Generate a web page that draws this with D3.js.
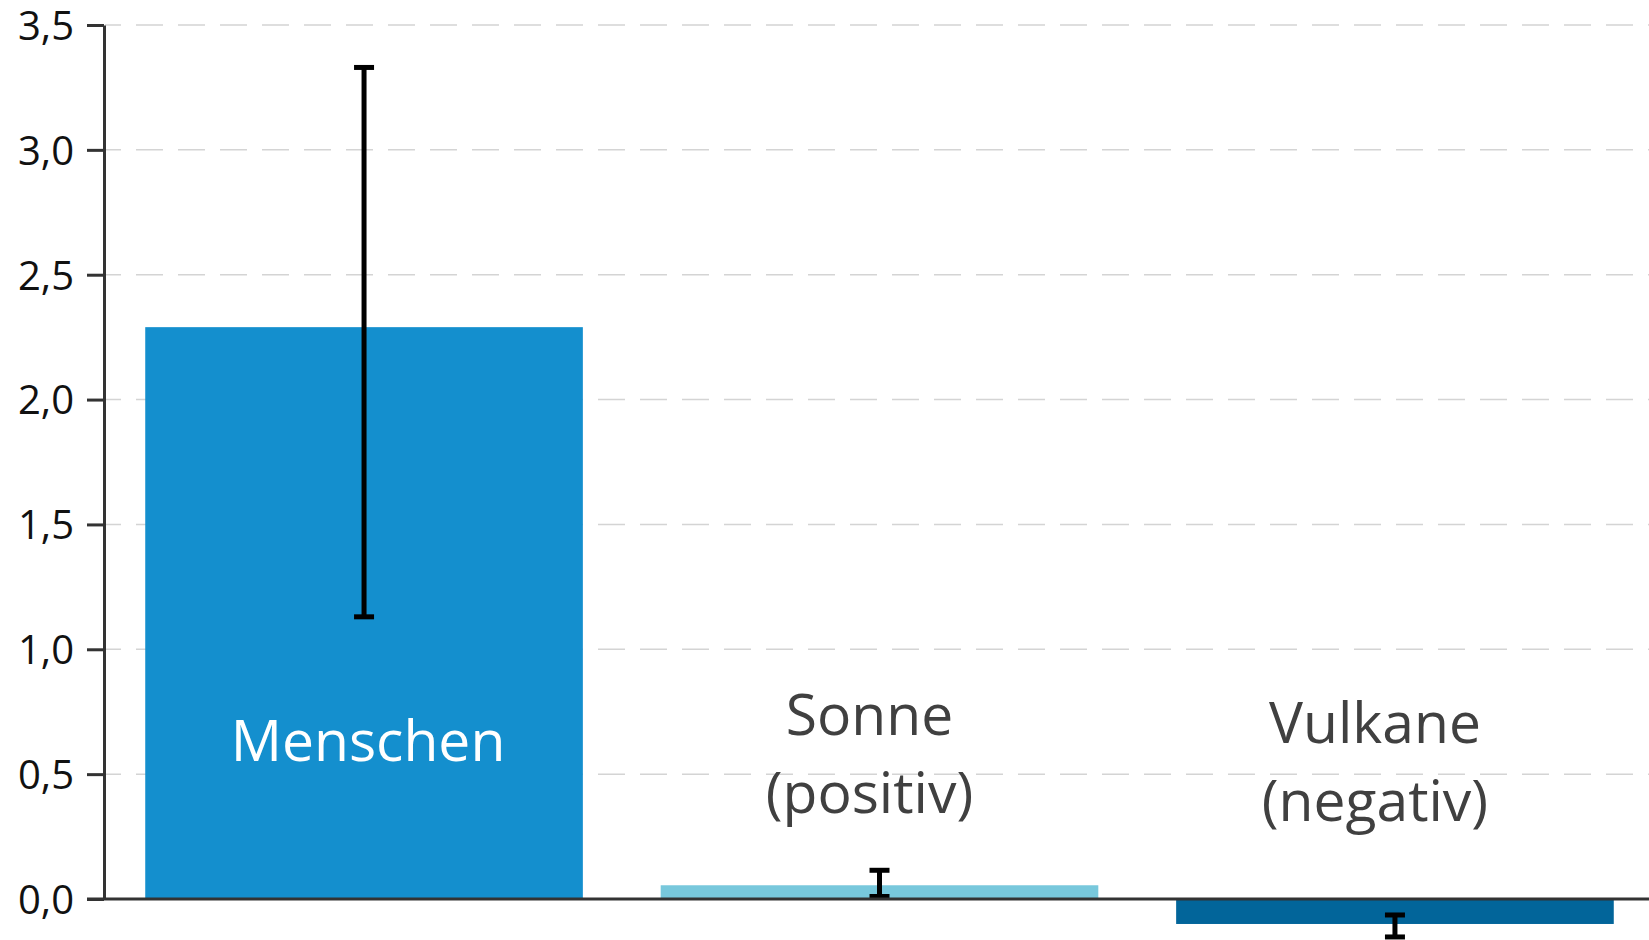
<!DOCTYPE html>
<html>
<head>
<meta charset="utf-8">
<script src="https://cdn.jsdelivr.net/npm/d3@7"></script>
<style>
  html, body { margin: 0; padding: 0; background: #fff; }
  svg { display: block; font-family: "Open Sans", sans-serif; }
</style>
</head>
<body>
<script>
const width = 1649;
const height = 940;

// Daten
const categories = ["Menschen", "Sonne", "Vulkane"];
const values = [2.29, 0.055, -0.10];
const errLow = [1.13, 0.01, -0.152];
const errHigh = [3.33, 0.115, -0.064];
const labelLines = [["Menschen"], ["Sonne", "(positiv)"], ["Vulkane", "(negativ)"]];
const barColors = ["#148fce", "#78c8dc", "#02659a"];
const yTicks = [0, 0.5, 1.0, 1.5, 2.0, 2.5, 3.0, 3.5];

// Lage der Beschriftungen (dx gegen Balkenmitte, Grundlinie der ersten Zeile)
const labelLayout = [
    { dx: 4, y: 761, fill: "#ffffff" },
    { dx: -10, y: 735, fill: "#404040" },
    { dx: -20, y: 743, fill: "#404040" }
];

const svg = d3.select("body")
    .append("svg")
    .attr("width", width)
    .attr("height", height);

const x = d3.scaleBand()
    .domain(categories)
    .range([104, 1655])
    .paddingInner(0.151)
    .paddingOuter(0.08);

const y = d3.scaleLinear()
    .domain([0, 3.5])
    .range([899, 25]);

const de = d3.formatLocale({ decimal: ",", thousands: ".", grouping: [3], currency: ["", " €"] });
const fmt = de.format(".1f");

// Gitterlinien
svg.append("g")
    .selectAll("line")
    .data(yTicks.filter(d => d > 0))
    .enter()
    .append("line")
    .attr("x1", 105)
    .attr("x2", width)
    .attr("y1", d => y(d))
    .attr("y2", d => y(d))
    .attr("stroke", "#d4d4d4")
    .attr("stroke-width", 1.5)
    .attr("stroke-dasharray", "27,15")
    .attr("stroke-dashoffset", 11);

// Balken
svg.append("g")
    .selectAll("rect")
    .data(categories)
    .enter()
    .append("rect")
    .attr("x", d => x(d))
    .attr("width", x.bandwidth())
    .attr("y", (d, i) => y(Math.max(0, values[i])))
    .attr("height", (d, i) => Math.abs(y(values[i]) - y(0)))
    .attr("fill", (d, i) => barColors[i]);

// Fehlerbalken
const err = svg.append("g")
    .selectAll("g")
    .data(categories)
    .enter()
    .append("g")
    .attr("transform", d => `translate(${x(d) + x.bandwidth() / 2},0)`);

err.append("line")
    .attr("y1", (d, i) => y(errLow[i]))
    .attr("y2", (d, i) => y(errHigh[i]))
    .attr("stroke", "#000")
    .attr("stroke-width", 5);

err.selectAll(".cap")
    .data((d, i) => [errLow[i], errHigh[i]])
    .enter()
    .append("line")
    .attr("class", "cap")
    .attr("x1", -10)
    .attr("x2", 10)
    .attr("y1", d => y(d))
    .attr("y2", d => y(d))
    .attr("stroke", "#000")
    .attr("stroke-width", 5);

// Beschriftungen
const labels = svg.append("g")
    .selectAll("text")
    .data(categories)
    .enter()
    .append("text")
    .attr("text-anchor", "middle")
    .attr("font-size", "57px")
    .attr("fill", (d, i) => labelLayout[i].fill)
    .attr("x", (d, i) => x(d) + x.bandwidth() / 2 + labelLayout[i].dx)
    .attr("y", (d, i) => labelLayout[i].y);

labels.selectAll("tspan")
    .data((d, i) => labelLines[i].map((t, j) => ({ t, j, i })))
    .enter()
    .append("tspan")
    .attr("x", d => x(categories[d.i]) + x.bandwidth() / 2 + labelLayout[d.i].dx)
    .attr("dy", d => d.j === 0 ? 0 : 78)
    .text(d => d.t);

// y-Achse
const yAxis = svg.append("g")
    .attr("transform", "translate(104,0)")
    .call(d3.axisLeft(y).tickValues(yTicks).tickFormat(fmt).tickSize(17).tickSizeOuter(0).tickPadding(13));

yAxis.select(".domain").attr("stroke", "#333").attr("stroke-width", 3);
yAxis.selectAll(".tick line").attr("stroke", "#333").attr("stroke-width", 3);
yAxis.selectAll(".tick text")
    .attr("font-family", "Open Sans, sans-serif")
    .attr("font-size", "40px")
    .attr("fill", "#111")
    .attr("dy", "0.36em");

// Nulllinie
svg.append("line")
    .attr("x1", 87)
    .attr("x2", width)
    .attr("y1", y(0))
    .attr("y2", y(0))
    .attr("stroke", "#333")
    .attr("stroke-width", 3);
</script>
</body>
</html>
